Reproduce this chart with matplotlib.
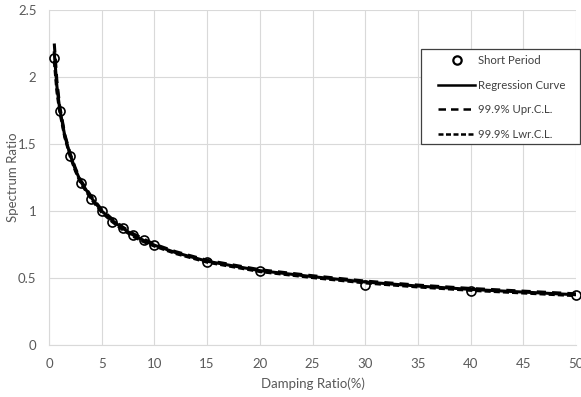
import matplotlib
matplotlib.use("Agg")
import matplotlib.pyplot as plt
from matplotlib.lines import Line2D
from matplotlib.patches import Rectangle

plt.rcParams['font.family'] = ['Lato', 'DejaVu Sans']

# observed points
obs_x = [0.5, 1, 2, 3, 4, 5, 6, 7, 8, 9, 10, 15, 20, 30, 40, 50]
obs_y = [2.14, 1.75, 1.41, 1.21, 1.09, 1.00, 0.92, 0.87, 0.82, 0.78, 0.75, 0.62, 0.55, 0.45, 0.40, 0.37]

# regression curve and confidence limits
curve_x = [0.5, 0.75, 1, 1.5, 2, 2.5, 3, 4, 5, 6, 7, 8, 9, 10, 12, 15, 20, 25, 30, 35, 40, 45, 50]
reg_y = [2.18, 1.93, 1.77, 1.56, 1.42, 1.31, 1.22, 1.10, 1.00, 0.93, 0.87, 0.82, 0.78, 0.745, 0.69, 0.625, 0.555, 0.51, 0.47, 0.44, 0.415, 0.395, 0.375]
upr_y = [2.25, 1.97, 1.79, 1.57, 1.43, 1.32, 1.23, 1.11, 1.01, 0.94, 0.88, 0.83, 0.79, 0.752, 0.697, 0.632, 0.562, 0.517, 0.477, 0.447, 0.422, 0.402, 0.382]
lwr_y = [2.12, 1.89, 1.75, 1.55, 1.41, 1.30, 1.21, 1.09, 0.99, 0.92, 0.86, 0.81, 0.77, 0.738, 0.683, 0.618, 0.548, 0.503, 0.463, 0.433, 0.408, 0.388, 0.368]

xticks = [0, 5, 10, 15, 20, 25, 30, 35, 40, 45, 50]
yticks = [0, 0.5, 1, 1.5, 2, 2.5]

W, H = 581, 397
fig = plt.figure(figsize=(5.81, 3.97), dpi=100)
ax = fig.add_axes([49/W, 1-345/H, (576-49)/W, (345-10)/H])

ax.plot(curve_x, reg_y, color='black', lw=2.2, zorder=3)
ax.plot(curve_x, upr_y, color='black', lw=2.2, ls=(0, (3, 2)), zorder=3)
ax.plot(curve_x, lwr_y, color='black', lw=2.2, ls=(0, (2, 1)), zorder=3)
ax.plot(obs_x, obs_y, ls='none', marker='o', ms=6.5, mfc='none', mec='black', mew=1.2, zorder=4, clip_on=False)

ax.set_xlim(0, 50)
ax.set_ylim(0, 2.5)
ax.set_xticks(xticks)
ax.set_yticks(yticks)
ax.set_xticklabels([str(v) for v in xticks])
ax.set_yticklabels(['0', '0.5', '1', '1.5', '2', '2.5'])
ax.grid(True, color='#d9d9d9', lw=0.8)
ax.set_axisbelow(True)
for s in ['top', 'right']:
    ax.spines[s].set_visible(False)
for s in ['left', 'bottom']:
    ax.spines[s].set_color('#d9d9d9')
ax.tick_params(length=0, colors='#595959', labelsize=9.5, pad=9)
ax.set_xlabel('Damping Ratio(%)', color='#595959', fontsize=9.5)
ax.set_ylabel('Spectrum Ratio', color='#595959', fontsize=9.5)
ax.xaxis.set_label_coords(0.5, (345-377)/335)
ax.yaxis.set_label_coords((19-49)/527, 0.5)

# fit legend font so the longest label is ~88 px wide
renderer = fig.canvas.get_renderer()
probe = fig.text(0, 0, 'Regression Curve', fontsize=10)
wpx = probe.get_window_extent(renderer).width
probe.remove()
leg_fs = 10 * 88 / wpx
fs_px = leg_fs * 100 / 72

# legend frame
fig.patches.append(Rectangle((421/W, 1-144/H), (580-421)/W, (144-49)/H,
                             transform=fig.transFigure, fill=True, facecolor='white',
                             edgecolor='#404040', lw=0.9, zorder=5))

handles = [
    Line2D([], [], ls='none', marker='o', ms=6, mfc='none', mec='black', mew=1.6),
    Line2D([], [], color='black', lw=1.8),
    Line2D([], [], color='black', lw=1.8, ls=(0, (3, 2))),
    Line2D([], [], color='black', lw=1.8, ls=(0, (2, 1))),
]
labels = ['Short Period', 'Regression Curve', '99.9% Upr.C.L.', '99.9% Lwr.C.L.']
leg = fig.legend(handles, labels, loc='upper left', bbox_to_anchor=(438/W, 1-55.5/H),
                 frameon=False, fontsize=leg_fs, handlelength=37/fs_px,
                 handletextpad=3/fs_px, labelspacing=(24 - 0.92*fs_px)/fs_px,
                 borderpad=0, borderaxespad=0)
leg.set_zorder(6)
for t in leg.get_texts():
    t.set_color('#404040')

fig.savefig('out.png', dpi=100)
